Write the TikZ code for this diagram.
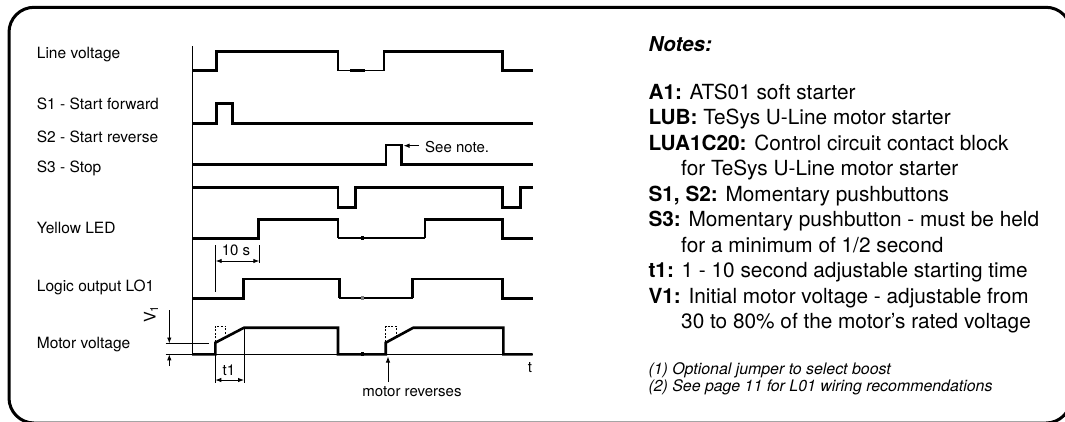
\documentclass[tikz,border=0pt]{standalone}
\usepackage{fontspec}
\setmainfont{TeX Gyre Heros}
\usetikzlibrary{arrows.meta}
\begin{document}
\begin{tikzpicture}[x=1pt,y=-1pt,
  sig/.style={line width=2.6pt, line join=miter},
  thinln/.style={line width=0.9pt},
  midln/.style={line width=2pt},
  lvmid/.style={line width=1.5pt},
  lbl/.style={anchor=base west, inner sep=0pt, font=\fontsize{15.5}{18}\selectfont},
  small/.style={inner sep=0pt, font=\fontsize{15}{18}\selectfont},
  note/.style={anchor=base west, inner sep=0pt, font=\fontsize{20.8}{24}\selectfont},
  foot/.style={anchor=base west, inner sep=0pt, font=\fontsize{15.9}{18}\selectfont\itshape},
  tipend/.style={-{Latex[length=6pt,width=4.5pt]}},
  dimarrow/.style={{Latex[length=6pt,width=4.5pt]}-{Latex[length=6pt,width=4.5pt]}, thinln},
  dotbox/.style={line width=0.9pt, dash pattern=on 2pt off 1.6pt},
]
\useasboundingbox (0,0) rectangle (1065,421);
\clip (0,0) rectangle (1065,421);
% frame
\draw[line width=3pt, rounded corners=25pt] (9,7.3) rectangle (1071,423);

% axis
\coordinate (axT) at (192,46);
\coordinate (axB) at (192,355);
\draw[thinln] (axT) -- (axB);

% labels
\node[lbl] (lLV) at (36.7,58.3) {Line voltage};
\node[lbl] (lS1) at (36.7,109) {S1 - Start forward};
\node[lbl] (lS2) at (36.7,142) {S2 - Start reverse};
\node[lbl] (lS3) at (36.7,172) {S3 - Stop};
\node[lbl] (lYL) at (36.7,233) {Yellow LED};
\node[lbl] (lLO) at (36.7,291.7) {Logic output LO1};
\node[lbl] (lMV) at (36.7,348) {Motor voltage};

% Line voltage
\draw[sig] (192,70.7) -- (216.7,70.7) -- (216.7,51.7) -- (338,51.7) -- (338,70.7);
\draw[lvmid] (338,70.7) -- (384,70.7);
\fill (350,69) rectangle (365,72.4);
\draw[sig] (384,70.7) -- (384,51.7) -- (502.7,51.7) -- (502.7,70.7) -- (532.7,70.7);

% S1
\draw[sig] (192,123.3) -- (216.7,123.3) -- (216.7,103.3) -- (232.3,103.3) -- (232.3,123.3) -- (532.7,123.3);
% S2
\draw[sig] (192,164.3) -- (386,164.3) -- (386,145) -- (401.7,145) -- (401.7,164.3) -- (532.7,164.3);
% S3
\draw[sig] (192,187.7) -- (338,187.7) -- (338,207.3) -- (355.7,207.3) -- (355.7,187.7) -- (502.7,187.7)
  -- (502.7,207.3) -- (520.7,207.3) -- (520.7,187.7) -- (532.7,187.7);

% Yellow LED
\draw[sig] (192,238.3) -- (258.3,238.3) -- (258.3,219.3) -- (338,219.3) -- (338,238.3);
\draw[midln] (338,238.3) -- (425,238.3);
\fill (360.5,236.4) rectangle (364,240.2);
\draw[sig] (425,238.3) -- (425,219.3) -- (502.3,219.3) -- (502.3,238.3) -- (532.7,238.3);

% Logic output
\draw[sig] (192,298.3) -- (243.3,298.3) -- (243.3,279) -- (339.3,279) -- (339.3,298.3);
\draw[midln] (339.3,298.3) -- (412.7,298.3);
\fill[gray] (360.5,296.4) rectangle (364,300.2);
\draw[sig] (412.7,298.3) -- (412.7,279) -- (502.3,279) -- (502.3,298.3) -- (532.7,298.3);

% Motor voltage
\draw[thinln] (192,354.3) -- (532.7,354.3);
\draw[sig] (192,354.3) -- (215.3,354.3) -- (215.3,342.7) -- (244,327.7) -- (338,327.7) -- (338,354.3)
  -- (385.7,354.3) -- (385.7,342.7) -- (413.3,327.7) -- (503.3,327.7) -- (503.3,354.3) -- (532.7,354.3);
\fill (360.5,352.4) rectangle (364,356.2);
\draw[dotbox] (215.3,342) -- (215.3,326) -- (225.7,326) -- (225.7,337.3);
\draw[dotbox] (385.7,342) -- (385.7,326) -- (396.5,326) -- (396.5,336.6);
\node[small, anchor=base] (tlab) at (530,372.7) {t};

% 10 s dimension
\coordinate (tsA) at (215.7,261);
\coordinate (tsB) at (259.3,261);
\draw[thinln] (215.7,245) -- (215.7,291.7);
\draw[thinln] (259.3,245) -- (259.3,263);
\draw[dimarrow] (tsA) -- (tsB);
\node[small, anchor=base] (tens) at (236,255) {10 s};

% t1 dimension
\coordinate (t1A) at (215.3,380);
\coordinate (t1B) at (244,380);
\draw[thinln] (215.3,343) -- (215.3,383);
\draw[thinln] (244,328) -- (244,383);
\draw[dimarrow] (t1A) -- (t1B);
\node[small, anchor=base] (t1lab) at (229,375) {t1};

% V1 dimension
\draw[thinln] (165.7,343.5) -- (209,343.5);
\draw[thinln] (165.7,354.3) -- (192,354.3);
\coordinate (vTopS) at (169.3,310);
\coordinate (vTopE) at (169.3,343.5);
\coordinate (vBotS) at (169.3,366);
\coordinate (vBotE) at (169.3,354.3);
\draw[thinln,tipend] (vTopS) -- (vTopE);
\draw[thinln,tipend] (vBotS) -- (vBotE);
\node[inner sep=0pt, font=\fontsize{16}{18}\selectfont, rotate=90] (v1lab) at (151,314) {V\textsubscript{1}};

% see note
\node[small, anchor=base west] (sn) at (425,152) {See note.};
\coordinate (snTip) at (403.5,145.7);
\draw[thinln,tipend] (419,145.7) -- (snTip);

% motor reverses
\node[small, anchor=base] (mr) at (412,396.7) {motor reverses};
\coordinate (mrTip) at (388,356.5);
\draw[thinln,tipend] (388,382) -- (mrTip);

% notes
\node[note, font=\fontsize{20.5}{24}\selectfont\bfseries\itshape] (nh) at (648.3,51) {Notes:};
\node[note] (n1) at (648.3,99.3) {\textbf{A1:} ATS01 soft starter};
\node[note] (n2) at (648.3,124.8) {\textbf{LUB:} TeSys U-Line motor starter};
\node[note] (n3) at (648.3,150.3) {\textbf{LUA1C20:} Control circuit contact block};
\node[note] (n3b) at (681,175.8) {for TeSys U-Line motor starter};
\node[note] (n4) at (648.3,201.3) {\textbf{S1, S2:} Momentary pushbuttons};
\node[note] (n5) at (648.3,226.8) {\textbf{S3:} Momentary pushbutton - must be held};
\node[note] (n5b) at (681,252.3) {for a minimum of 1/2 second};
\node[note] (n6) at (648.3,277.8) {\textbf{t1:} 1 - 10 second adjustable starting time};
\node[note] (n7) at (648.3,303.3) {\textbf{V1:} Initial motor voltage - adjustable from};
\node[note] (n7b) at (681,328.8) {30 to 80\% of the motor’s rated voltage};
\node[foot] (f1) at (648.3,374) {(1) Optional jumper to select boost};
\node[foot] (f2) at (648.3,391.5) {(2) See page 11 for L01 wiring recommendations};
\end{tikzpicture}
\end{document}
